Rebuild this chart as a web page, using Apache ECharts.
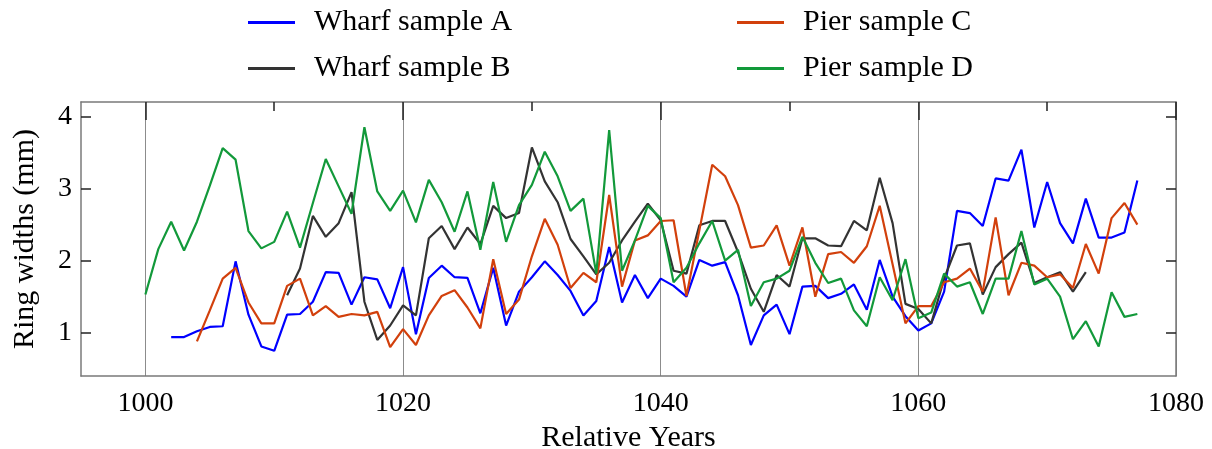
<!DOCTYPE html>
<html>
<head>
<meta charset="utf-8">
<title>Ring widths</title>
<script src="https://cdn.jsdelivr.net/npm/echarts@6/dist/echarts.min.js"></script>
<style>
  html, body { margin: 0; padding: 0; background: #fff; }
  #chart { width: 1212px; height: 449px; }
</style>
</head>
<body>
<div id="chart"></div>
<script>
// ring widths (mm) per relative year, each series starts at its own first year
const startA = 1002
const wharfA = [0.94, 0.94, 1.02, 1.08, 1.09, 1.99, 1.25, 0.81, 0.75, 1.25,
  1.26, 1.43, 1.84, 1.83, 1.39, 1.77, 1.74, 1.34, 1.91, 0.98,
  1.76, 1.93, 1.77, 1.76, 1.27, 1.90, 1.10, 1.57, 1.77, 1.99,
  1.80, 1.58, 1.24, 1.44, 2.19, 1.42, 1.80, 1.48, 1.75, 1.65,
  1.50, 2.01, 1.93, 1.98, 1.52, 0.83, 1.24, 1.39, 0.98, 1.64,
  1.65, 1.48, 1.54, 1.67, 1.32, 2.01, 1.50, 1.23, 1.03, 1.13,
  1.57, 2.69, 2.66, 2.48, 3.14, 3.11, 3.54, 2.46, 3.09, 2.52,
  2.24, 2.86, 2.32, 2.32, 2.39, 3.11]

const startB = 1011
const wharfB = [1.52, 1.89, 2.62, 2.33, 2.52, 2.95, 1.43, 0.90, 1.10, 1.38,
  1.24, 2.31, 2.48, 2.16, 2.46, 2.23, 2.76, 2.59, 2.66, 3.57,
  3.10, 2.81, 2.30, 2.06, 1.81, 1.97, 2.28, 2.54, 2.79, 2.56,
  1.86, 1.82, 2.49, 2.55, 2.55, 2.12, 1.61, 1.29, 1.80, 1.64,
  2.31, 2.31, 2.21, 2.20, 2.55, 2.42, 3.15, 2.52, 1.40, 1.33,
  1.13, 1.75, 2.21, 2.24, 1.53, 1.91, 2.09, 2.25, 1.69, 1.77,
  1.84, 1.57, 1.84]

const startC = 1004
const pierC = [0.88, 1.31, 1.75, 1.90, 1.42, 1.13, 1.13, 1.65, 1.75, 1.24,
  1.37, 1.22, 1.26, 1.24, 1.29, 0.80, 1.05, 0.83, 1.24, 1.51,
  1.59, 1.35, 1.06, 2.02, 1.26, 1.46, 2.06, 2.58, 2.22, 1.62,
  1.83, 1.70, 2.91, 1.64, 2.28, 2.35, 2.55, 2.56, 1.51, 2.42,
  3.33, 3.17, 2.77, 2.18, 2.21, 2.49, 1.93, 2.46, 1.50, 2.09,
  2.12, 1.97, 2.20, 2.76, 1.95, 1.13, 1.37, 1.37, 1.70, 1.75,
  1.89, 1.57, 2.60, 1.52, 1.97, 1.93, 1.77, 1.81, 1.62, 2.23,
  1.82, 2.59, 2.80, 2.50]

const startD = 1000
const pierD = [1.53, 2.16, 2.54, 2.14, 2.54, 3.04, 3.56, 3.40, 2.41, 2.17,
  2.26, 2.68, 2.18, 2.80, 3.41, 3.03, 2.65, 3.85, 2.96, 2.69,
  2.97, 2.53, 3.12, 2.81, 2.40, 2.96, 2.15, 3.09, 2.26, 2.77,
  3.05, 3.51, 3.17, 2.69, 2.86, 1.82, 3.81, 1.86, 2.28, 2.76,
  2.59, 1.70, 1.90, 2.24, 2.55, 2.00, 2.15, 1.37, 1.70, 1.75,
  1.86, 2.33, 1.97, 1.69, 1.75, 1.31, 1.09, 1.77, 1.45, 2.02,
  1.20, 1.28, 1.82, 1.64, 1.70, 1.26, 1.75, 1.75, 2.41, 1.67,
  1.75, 1.50, 0.91, 1.16, 0.81, 1.56, 1.22, 1.26]

const xMajorTicks = [1000, 1020, 1040, 1060, 1080]
const xMinorTicks = [1010, 1030, 1050, 1070]
const yTicks = [1, 2, 3, 4]

const FONT = 'Liberation Serif'
const frame = { show: true, lineStyle: { color: '#7a7a7a', width: 1.5 } }

function pairs(start, values) {
  return values.map((v, i) => [start + i, v])
}

const chart = echarts.init(document.getElementById('chart'))

const legendBase = {
  orient: 'vertical',
  top: 7,
  padding: 0,
  icon: 'rect',
  itemWidth: 47,
  itemHeight: 3,
  itemGap: 15,
  textStyle: { fontFamily: FONT, fontSize: 30, lineHeight: 31, color: '#000', padding: [0, 0, 0, 14] }
}

chart.setOption({
  animation: false,
  backgroundColor: '#fff',
  legend: [
    Object.assign({ left: 248, data: ['Wharf sample A', 'Wharf sample B'] }, legendBase),
    Object.assign({ left: 737, data: ['Pier sample C', 'Pier sample D'] }, legendBase)
  ],
  // keep the plot box fixed, names may sit near the edge
  grid: { left: 81, right: 36, top: 102, bottom: 73, outerBoundsMode: 'none', containLabel: false },
  xAxis: [
    {
      type: 'value', position: 'bottom', min: 995, max: 1080,
      name: 'Relative Years', nameLocation: 'middle', nameGap: 44,
      nameTextStyle: { fontFamily: FONT, fontSize: 30, color: '#000' },
      axisLine: frame,
      axisTick: { show: false, customValues: xMajorTicks },
      axisLabel: {
        customValues: xMajorTicks, margin: 14, fontFamily: FONT, fontSize: 28, color: '#000',
        formatter: v => String(v)
      },
      splitLine: { show: true, lineStyle: { color: '#8c8c8c', width: 1 } }
    },
    {
      type: 'value', position: 'top', min: 995, max: 1080,
      axisLine: frame,
      axisTick: { show: true, inside: true, length: 18, customValues: xMajorTicks, lineStyle: { color: '#222', width: 1.5 } },
      axisLabel: { show: false },
      splitLine: { show: false }
    },
    {
      type: 'value', position: 'top', min: 995, max: 1080,
      axisLine: { show: false },
      axisTick: { show: true, inside: true, length: 9, customValues: xMinorTicks, lineStyle: { color: '#222', width: 1.5 } },
      axisLabel: { show: false },
      splitLine: { show: false }
    }
  ],
  yAxis: [
    {
      type: 'value', position: 'left', min: 0.4, max: 4.2,
      name: 'Ring widths (mm)', nameLocation: 'middle', nameGap: 41,
      nameTextStyle: { fontFamily: FONT, fontSize: 30, color: '#000' },
      axisLine: frame,
      axisTick: { show: true, inside: true, length: 10, customValues: yTicks, lineStyle: { color: '#222', width: 1.5 } },
      axisLabel: { customValues: yTicks, margin: 9, fontFamily: FONT, fontSize: 28, color: '#000' },
      splitLine: { show: false }
    },
    {
      type: 'value', position: 'right', min: 0.4, max: 4.2,
      axisLine: frame,
      axisTick: { show: true, inside: true, length: 10, customValues: yTicks, lineStyle: { color: '#222', width: 1.5 } },
      axisLabel: { show: false },
      splitLine: { show: false }
    }
  ],
  series: [
    { name: 'Wharf sample A', type: 'line', data: pairs(startA, wharfA), color: '#0000ff' },
    { name: 'Wharf sample B', type: 'line', data: pairs(startB, wharfB), color: '#333333' },
    { name: 'Pier sample C', type: 'line', data: pairs(startC, pierC), color: '#d2400c' },
    { name: 'Pier sample D', type: 'line', data: pairs(startD, pierD), color: '#12993a' }
  ].map(s => Object.assign(s, {
    symbol: 'none',
    lineStyle: { width: 2.2, color: s.color },
    xAxisIndex: 0,
    yAxisIndex: 0
  }))
})

window.addEventListener('resize', () => chart.resize())
</script>
</body>
</html>
